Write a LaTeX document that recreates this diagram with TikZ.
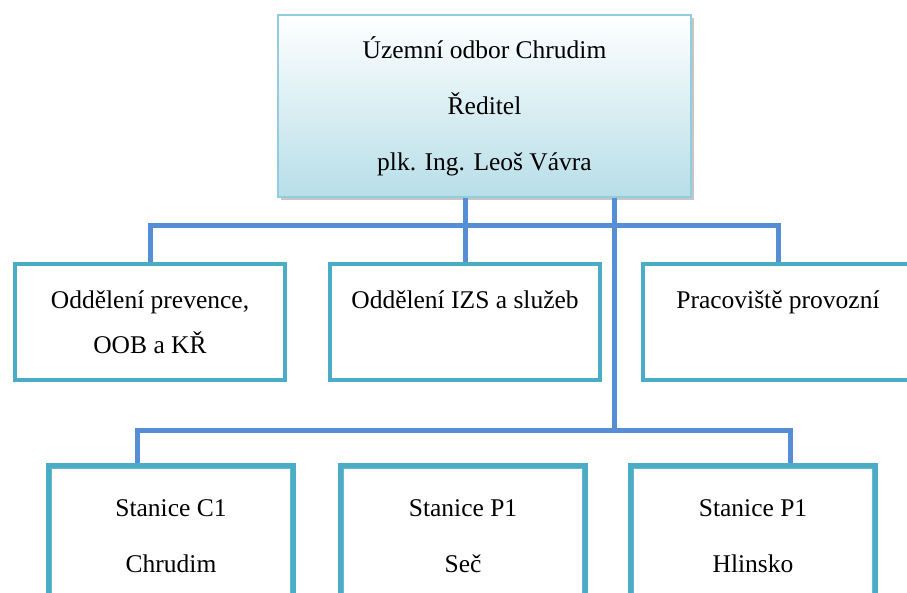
\documentclass[tikz,border=0pt]{standalone}
\usepackage{fontspec}
\setmainfont{Liberation Serif}
\usetikzlibrary{shadows}
\definecolor{connc}{RGB}{85,142,213}
\definecolor{boxc}{RGB}{75,172,198}
\definecolor{topedge}{RGB}{147,205,221}
\definecolor{topfill}{RGB}{183,222,232}
\tikzset{
  conn/.style={draw=connc, line width=5pt},
  topbox/.style={draw=topedge, line width=2pt, top color=white, bottom color=topfill,
    minimum width=413pt, minimum height=182pt, align=center, inner sep=0pt,
    font=\fontsize{25.5}{56}\selectfont,
    drop shadow={shadow xshift=2.5pt, shadow yshift=-2.5pt, opacity=0.45, fill=gray}},
  deptbox/.style={draw=boxc, line width=4.5pt, fill=white, minimum width=270pt,
    minimum height=116pt, align=center, inner sep=0pt, font=\fontsize{25.5}{45}\selectfont},
  stationbox/.style={draw=boxc, line width=6pt, fill=white, minimum width=244pt,
    minimum height=140pt, align=center, inner sep=0pt, font=\fontsize{25.5}{56}\selectfont},
  innerline/.style={draw=boxc!85, line width=1.5pt}
}
\begin{document}
\begin{tikzpicture}[x=1pt,y=-1pt]
\useasboundingbox (0,0) rectangle (907,592);
\node[topbox] (top) at (484.5,106) {Územní odbor Chrudim\\Ředitel\\plk. Ing. Leoš Vávra};
\node[deptbox] (b1) at (150,322) {Oddělení prevence,\\OOB a KŘ};
\node[deptbox] (b2) at (465,322) {Oddělení IZS a služeb\\\mbox{}};
\node[deptbox] (b3) at (778,322) {Pracoviště provozní\\\mbox{}};
\node[stationbox] (c1) at (171,536) {Stanice C1\\Chrudim};
\node[stationbox] (c2) at (463,536) {Stanice P1\\Seč};
\node[stationbox] (c3) at (753,536) {Stanice P1\\Hlinsko};
\foreach \n in {c1,c2,c3}{
  \draw[innerline] ([shift={(5.5pt,-5.5pt)}]\n.north west) rectangle ([shift={(-5.5pt,5.5pt)}]\n.south east);
}
\coordinate (bus1) at (778,225);
\coordinate (bus2) at (614,430);
\draw[conn] (b1.north) |- (bus1) -| (b3.north);
\draw[conn] (top.south -| b2.north) -- (b2.north);
\draw[conn] (top.south -| bus2) -- (bus2);
\draw[conn] ([xshift=-34pt]c1.north) |- (bus2) -| ([xshift=37pt]c3.north);
\end{tikzpicture}
\end{document}
